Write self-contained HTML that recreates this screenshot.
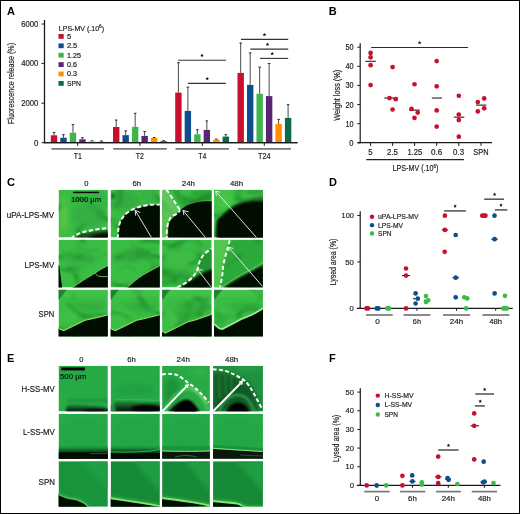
<!DOCTYPE html>
<html><head><meta charset="utf-8"><style>
html,body{margin:0;padding:0;background:#fff;}
svg{display:block;will-change:transform;}
text{font-family:"Liberation Sans", sans-serif;}
</style></head><body>
<svg width="520" height="514" viewBox="0 0 520 514">
<defs>
<filter id="b1" x="-20%" y="-20%" width="140%" height="140%"><feGaussianBlur stdDeviation="0.6"/></filter>
<filter id="b2" x="-50%" y="-50%" width="200%" height="200%"><feGaussianBlur stdDeviation="2.5"/></filter>
<filter id="tex" x="0" y="0" width="520" height="514" filterUnits="userSpaceOnUse" color-interpolation-filters="sRGB"><feTurbulence type="turbulence" baseFrequency="0.025 0.035" numOctaves="2" seed="11" result="n"/><feColorMatrix in="n" type="matrix" values="0 0 0 0 0.1  0 0 0 0 0.5  0 0 0 0 0.15  -5 0 0 0 1.0"/><feGaussianBlur stdDeviation="1.1"/></filter>
<filter id="b3" x="-50%" y="-50%" width="200%" height="200%"><feGaussianBlur stdDeviation="1.2"/></filter>
<clipPath id="c1"><rect x="58.55" y="189.85" width="49.3" height="47.7"/></clipPath>
<clipPath id="c2"><rect x="110.6" y="189.85" width="49.2" height="47.7"/></clipPath>
<clipPath id="c3"><rect x="162.1" y="189.85" width="49.6" height="47.7"/></clipPath>
<clipPath id="c4"><rect x="214.06" y="189.85" width="48.9" height="47.7"/></clipPath>
<clipPath id="c5"><rect x="58.55" y="239.8" width="49.3" height="47.7"/></clipPath>
<clipPath id="c6"><rect x="110.6" y="239.8" width="49.2" height="47.7"/></clipPath>
<clipPath id="c7"><rect x="162.1" y="239.8" width="49.6" height="47.7"/></clipPath>
<clipPath id="c8"><rect x="214.06" y="239.8" width="48.9" height="47.7"/></clipPath>
<clipPath id="c9"><rect x="58.55" y="289.8" width="49.3" height="46.8"/></clipPath>
<clipPath id="c10"><rect x="110.6" y="289.8" width="49.2" height="46.8"/></clipPath>
<clipPath id="c11"><rect x="162.1" y="289.8" width="49.6" height="46.8"/></clipPath>
<clipPath id="c12"><rect x="214.06" y="289.8" width="48.9" height="46.8"/></clipPath>
<linearGradient id="gdE11" x1="0" y1="0" x2="0" y2="1"><stop offset="0" stop-color="#0d3a18" stop-opacity="0.2"/><stop offset="0.5" stop-color="#0b2a12" stop-opacity="0.75"/><stop offset="1" stop-color="#020402"/></linearGradient>
<clipPath id="c13"><rect x="58.55" y="365.85" width="49.3" height="45.6"/></clipPath>
<clipPath id="c14"><rect x="110.66" y="365.85" width="49.2" height="45.6"/></clipPath>
<clipPath id="c15"><rect x="162.1" y="365.85" width="47.8" height="45.6"/></clipPath>
<clipPath id="c16"><rect x="213.06" y="365.85" width="49.9" height="45.6"/></clipPath>
<linearGradient id="gE2a" x1="0" y1="0" x2="0" y2="1"><stop offset="0" stop-color="#1b8f40" stop-opacity="0"/><stop offset="0.35" stop-color="#0f6a2c"/><stop offset="0.62" stop-color="#0a2810"/><stop offset="1" stop-color="#030503"/></linearGradient>
<clipPath id="c17"><rect x="58.55" y="413.8" width="49.3" height="45.0"/></clipPath>
<clipPath id="c18"><rect x="110.66" y="413.8" width="49.2" height="45.0"/></clipPath>
<clipPath id="c19"><rect x="162.1" y="413.8" width="47.8" height="45.0"/></clipPath>
<clipPath id="c20"><rect x="213.06" y="413.8" width="49.9" height="45.0"/></clipPath>
<clipPath id="c21"><rect x="58.55" y="461.2" width="49.3" height="45.6"/></clipPath>
<clipPath id="c22"><rect x="110.66" y="461.2" width="49.2" height="45.6"/></clipPath>
<clipPath id="c23"><rect x="162.1" y="461.2" width="47.8" height="45.6"/></clipPath>
<clipPath id="c24"><rect x="213.06" y="461.2" width="49.9" height="45.6"/></clipPath>
</defs>
<rect x="0.5" y="0.5" width="519" height="513" fill="#fff" stroke="#000" stroke-width="1"/>
<text x="7" y="15" font-size="11" text-anchor="start" font-weight="bold" fill="#000">A</text>
<text x="328.8" y="15" font-size="11" text-anchor="start" font-weight="bold" fill="#000">B</text>
<text x="7" y="186.3" font-size="11" text-anchor="start" font-weight="bold" fill="#000">C</text>
<text x="329" y="185.6" font-size="11" text-anchor="start" font-weight="bold" fill="#000">D</text>
<text x="7" y="361.8" font-size="11" text-anchor="start" font-weight="bold" fill="#000">E</text>
<text x="329" y="361.8" font-size="11" text-anchor="start" font-weight="bold" fill="#000">F</text>
<line x1="44.5" y1="20" x2="44.5" y2="143.2" stroke="#1a1a1a" stroke-width="1.3"/>
<line x1="44" y1="142.7" x2="297.5" y2="142.7" stroke="#1a1a1a" stroke-width="1.2"/>
<line x1="41.5" y1="24" x2="44.5" y2="24" stroke="#1a1a1a" stroke-width="1"/>
<text x="38.4" y="27.0" font-size="8.7" text-anchor="end" textLength="17.2" lengthAdjust="spacingAndGlyphs" fill="#222" stroke="#222" stroke-width="0.18">6000</text>
<line x1="41.5" y1="63.4" x2="44.5" y2="63.4" stroke="#1a1a1a" stroke-width="1"/>
<text x="38.4" y="66.4" font-size="8.7" text-anchor="end" textLength="17.2" lengthAdjust="spacingAndGlyphs" fill="#222" stroke="#222" stroke-width="0.18">4000</text>
<line x1="41.5" y1="103.2" x2="44.5" y2="103.2" stroke="#1a1a1a" stroke-width="1"/>
<text x="38.4" y="106.2" font-size="8.7" text-anchor="end" textLength="17.2" lengthAdjust="spacingAndGlyphs" fill="#222" stroke="#222" stroke-width="0.18">2000</text>
<line x1="41.5" y1="142.7" x2="44.5" y2="142.7" stroke="#1a1a1a" stroke-width="1"/>
<text x="38.4" y="145.7" font-size="8.7" text-anchor="end" textLength="4.4" lengthAdjust="spacingAndGlyphs" fill="#222" stroke="#222" stroke-width="0.18">0</text>
<text x="14" y="124" font-size="8.8" text-anchor="start" textLength="81" lengthAdjust="spacingAndGlyphs" transform="rotate(-90 14 124)" fill="#222" stroke="#222" stroke-width="0.18">Fluorescence release (%)</text>
<text x="58.8" y="31" font-size="7.0" text-anchor="start" textLength="45.2" lengthAdjust="spacingAndGlyphs" fill="#222" stroke="#222" stroke-width="0.18">LPS-MV (.10<tspan font-size="4.6" dy="-2.6">6</tspan><tspan dy="2.6">)</tspan></text>
<rect x="58.5" y="34.0" width="5.2" height="4.8" fill="#c8102e"/>
<text x="66.9" y="38.85" font-size="6.8" text-anchor="start" textLength="4.2" lengthAdjust="spacingAndGlyphs" fill="#222" stroke="#222" stroke-width="0.18">5</text>
<rect x="58.5" y="43.4" width="5.2" height="4.8" fill="#0c4e8c"/>
<text x="66.9" y="48.25" font-size="6.8" text-anchor="start" textLength="10.2" lengthAdjust="spacingAndGlyphs" fill="#222" stroke="#222" stroke-width="0.18">2.5</text>
<rect x="58.5" y="52.8" width="5.2" height="4.8" fill="#3db54a"/>
<text x="66.9" y="57.65" font-size="6.8" text-anchor="start" textLength="14" lengthAdjust="spacingAndGlyphs" fill="#222" stroke="#222" stroke-width="0.18">1.25</text>
<rect x="58.5" y="62.2" width="5.2" height="4.8" fill="#5b2374"/>
<text x="66.9" y="67.05" font-size="6.8" text-anchor="start" textLength="10" lengthAdjust="spacingAndGlyphs" fill="#222" stroke="#222" stroke-width="0.18">0.6</text>
<rect x="58.5" y="71.6" width="5.2" height="4.8" fill="#ff8f00"/>
<text x="66.9" y="76.44999999999999" font-size="6.8" text-anchor="start" textLength="10" lengthAdjust="spacingAndGlyphs" fill="#222" stroke="#222" stroke-width="0.18">0.3</text>
<rect x="58.5" y="81.0" width="5.2" height="4.8" fill="#0b6a4c"/>
<text x="66.9" y="85.85" font-size="6.8" text-anchor="start" textLength="14" lengthAdjust="spacingAndGlyphs" fill="#222" stroke="#222" stroke-width="0.18">SPN</text>
<line x1="54.0" y1="132" x2="54.0" y2="135.3" stroke="#4a4a4a" stroke-width="1"/>
<line x1="52.7" y1="132.4" x2="55.3" y2="132.4" stroke="#333" stroke-width="1"/>
<rect x="50.8" y="135.3" width="6.4" height="7.399999999999977" fill="#c8102e"/>
<line x1="63.480000000000004" y1="134.3" x2="63.480000000000004" y2="137.7" stroke="#4a4a4a" stroke-width="1"/>
<line x1="62.18000000000001" y1="134.70000000000002" x2="64.78" y2="134.70000000000002" stroke="#333" stroke-width="1"/>
<rect x="60.28" y="137.7" width="6.4" height="5.0" fill="#0c4e8c"/>
<line x1="72.96" y1="124.2" x2="72.96" y2="132.7" stroke="#4a4a4a" stroke-width="1"/>
<line x1="71.66" y1="124.60000000000001" x2="74.25999999999999" y2="124.60000000000001" stroke="#333" stroke-width="1"/>
<rect x="69.75999999999999" y="132.7" width="6.4" height="10.0" fill="#3db54a"/>
<line x1="82.44" y1="137.3" x2="82.44" y2="139.3" stroke="#4a4a4a" stroke-width="1"/>
<line x1="81.14" y1="137.70000000000002" x2="83.74" y2="137.70000000000002" stroke="#333" stroke-width="1"/>
<rect x="79.24" y="139.3" width="6.4" height="3.3999999999999773" fill="#5b2374"/>
<line x1="91.92" y1="140.4" x2="91.92" y2="141.5" stroke="#4a4a4a" stroke-width="1"/>
<line x1="90.62" y1="140.8" x2="93.22" y2="140.8" stroke="#333" stroke-width="1"/>
<rect x="88.72" y="141.5" width="6.4" height="1.1999999999999886" fill="#ff8f00"/>
<line x1="101.4" y1="140.6" x2="101.4" y2="141.8" stroke="#4a4a4a" stroke-width="1"/>
<line x1="100.10000000000001" y1="141.0" x2="102.7" y2="141.0" stroke="#333" stroke-width="1"/>
<rect x="98.2" y="141.8" width="6.4" height="0.8999999999999773" fill="#0b6a4c"/>
<line x1="116.2" y1="119.7" x2="116.2" y2="127" stroke="#4a4a4a" stroke-width="1"/>
<line x1="114.9" y1="120.10000000000001" x2="117.5" y2="120.10000000000001" stroke="#333" stroke-width="1"/>
<rect x="113.0" y="127" width="6.4" height="15.699999999999989" fill="#c8102e"/>
<line x1="125.68" y1="130.5" x2="125.68" y2="135.2" stroke="#4a4a4a" stroke-width="1"/>
<line x1="124.38000000000001" y1="130.9" x2="126.98" y2="130.9" stroke="#333" stroke-width="1"/>
<rect x="122.48" y="135.2" width="6.4" height="7.5" fill="#0c4e8c"/>
<line x1="135.16" y1="112.9" x2="135.16" y2="126.8" stroke="#4a4a4a" stroke-width="1"/>
<line x1="133.85999999999999" y1="113.30000000000001" x2="136.46" y2="113.30000000000001" stroke="#333" stroke-width="1"/>
<rect x="131.96" y="126.8" width="6.4" height="15.899999999999991" fill="#3db54a"/>
<line x1="144.64" y1="131.1" x2="144.64" y2="135.9" stroke="#4a4a4a" stroke-width="1"/>
<line x1="143.33999999999997" y1="131.5" x2="145.94" y2="131.5" stroke="#333" stroke-width="1"/>
<rect x="141.44" y="135.9" width="6.4" height="6.799999999999983" fill="#5b2374"/>
<line x1="154.12" y1="137.1" x2="154.12" y2="138" stroke="#4a4a4a" stroke-width="1"/>
<line x1="152.82" y1="137.5" x2="155.42000000000002" y2="137.5" stroke="#333" stroke-width="1"/>
<rect x="150.92000000000002" y="138" width="6.4" height="4.699999999999989" fill="#ff8f00"/>
<line x1="163.6" y1="140.3" x2="163.6" y2="141.2" stroke="#4a4a4a" stroke-width="1"/>
<line x1="162.29999999999998" y1="140.70000000000002" x2="164.9" y2="140.70000000000002" stroke="#333" stroke-width="1"/>
<rect x="160.4" y="141.2" width="6.4" height="1.5" fill="#0b6a4c"/>
<line x1="178.39999999999998" y1="62.3" x2="178.39999999999998" y2="92.6" stroke="#4a4a4a" stroke-width="1"/>
<line x1="177.09999999999997" y1="62.699999999999996" x2="179.7" y2="62.699999999999996" stroke="#333" stroke-width="1"/>
<rect x="175.2" y="92.6" width="6.4" height="50.099999999999994" fill="#c8102e"/>
<line x1="187.87999999999997" y1="86.8" x2="187.87999999999997" y2="110.9" stroke="#4a4a4a" stroke-width="1"/>
<line x1="186.57999999999996" y1="87.2" x2="189.17999999999998" y2="87.2" stroke="#333" stroke-width="1"/>
<rect x="184.67999999999998" y="110.9" width="6.4" height="31.799999999999983" fill="#0c4e8c"/>
<line x1="197.35999999999999" y1="129.3" x2="197.35999999999999" y2="134.3" stroke="#4a4a4a" stroke-width="1"/>
<line x1="196.05999999999997" y1="129.70000000000002" x2="198.66" y2="129.70000000000002" stroke="#333" stroke-width="1"/>
<rect x="194.16" y="134.3" width="6.4" height="8.399999999999977" fill="#3db54a"/>
<line x1="206.83999999999997" y1="120.5" x2="206.83999999999997" y2="129.9" stroke="#4a4a4a" stroke-width="1"/>
<line x1="205.53999999999996" y1="120.9" x2="208.14" y2="120.9" stroke="#333" stroke-width="1"/>
<rect x="203.64" y="129.9" width="6.4" height="12.799999999999983" fill="#5b2374"/>
<line x1="216.32" y1="138.8" x2="216.32" y2="139.7" stroke="#4a4a4a" stroke-width="1"/>
<line x1="215.01999999999998" y1="139.20000000000002" x2="217.62" y2="139.20000000000002" stroke="#333" stroke-width="1"/>
<rect x="213.12" y="139.7" width="6.4" height="3.0" fill="#ff8f00"/>
<line x1="225.79999999999998" y1="134.3" x2="225.79999999999998" y2="136.6" stroke="#4a4a4a" stroke-width="1"/>
<line x1="224.49999999999997" y1="134.70000000000002" x2="227.1" y2="134.70000000000002" stroke="#333" stroke-width="1"/>
<rect x="222.6" y="136.6" width="6.4" height="6.099999999999994" fill="#0b6a4c"/>
<line x1="240.7" y1="42.7" x2="240.7" y2="72.9" stroke="#4a4a4a" stroke-width="1"/>
<line x1="239.39999999999998" y1="43.1" x2="242.0" y2="43.1" stroke="#333" stroke-width="1"/>
<rect x="237.5" y="72.9" width="6.4" height="69.79999999999998" fill="#c8102e"/>
<line x1="250.17999999999998" y1="52.5" x2="250.17999999999998" y2="84.9" stroke="#4a4a4a" stroke-width="1"/>
<line x1="248.87999999999997" y1="52.9" x2="251.48" y2="52.9" stroke="#333" stroke-width="1"/>
<rect x="246.98" y="84.9" width="6.4" height="57.79999999999998" fill="#0c4e8c"/>
<line x1="259.65999999999997" y1="66.8" x2="259.65999999999997" y2="93.8" stroke="#4a4a4a" stroke-width="1"/>
<line x1="258.35999999999996" y1="67.2" x2="260.96" y2="67.2" stroke="#333" stroke-width="1"/>
<rect x="256.46" y="93.8" width="6.4" height="48.89999999999999" fill="#3db54a"/>
<line x1="269.14" y1="63.1" x2="269.14" y2="96.1" stroke="#4a4a4a" stroke-width="1"/>
<line x1="267.84" y1="63.5" x2="270.44" y2="63.5" stroke="#333" stroke-width="1"/>
<rect x="265.94" y="96.1" width="6.4" height="46.599999999999994" fill="#5b2374"/>
<line x1="278.62" y1="119" x2="278.62" y2="124" stroke="#4a4a4a" stroke-width="1"/>
<line x1="277.32" y1="119.4" x2="279.92" y2="119.4" stroke="#333" stroke-width="1"/>
<rect x="275.42" y="124" width="6.4" height="18.69999999999999" fill="#ff8f00"/>
<line x1="288.09999999999997" y1="104.3" x2="288.09999999999997" y2="117.9" stroke="#4a4a4a" stroke-width="1"/>
<line x1="286.79999999999995" y1="104.7" x2="289.4" y2="104.7" stroke="#333" stroke-width="1"/>
<rect x="284.9" y="117.9" width="6.4" height="24.799999999999983" fill="#0b6a4c"/>
<line x1="44" y1="142.7" x2="297.5" y2="142.7" stroke="#1a1a1a" stroke-width="1.2"/>
<line x1="51.4" y1="148.8" x2="103.9" y2="148.8" stroke="#777" stroke-width="1.7"/>
<line x1="77.7" y1="142.7" x2="77.7" y2="145.8" stroke="#1a1a1a" stroke-width="1"/>
<text x="77.7" y="159" font-size="8.3" text-anchor="middle" textLength="8.1" lengthAdjust="spacingAndGlyphs" fill="#222" stroke="#222" stroke-width="0.18">T1</text>
<line x1="113.2" y1="148.8" x2="166.8" y2="148.8" stroke="#777" stroke-width="1.7"/>
<line x1="139.9" y1="142.7" x2="139.9" y2="145.8" stroke="#1a1a1a" stroke-width="1"/>
<text x="139.9" y="159" font-size="8.3" text-anchor="middle" textLength="8.1" lengthAdjust="spacingAndGlyphs" fill="#222" stroke="#222" stroke-width="0.18">T2</text>
<line x1="175.5" y1="148.8" x2="228.9" y2="148.8" stroke="#777" stroke-width="1.7"/>
<line x1="202.4" y1="142.7" x2="202.4" y2="145.8" stroke="#1a1a1a" stroke-width="1"/>
<text x="202.4" y="159" font-size="8.3" text-anchor="middle" textLength="8.1" lengthAdjust="spacingAndGlyphs" fill="#222" stroke="#222" stroke-width="0.18">T4</text>
<line x1="237.9" y1="148.8" x2="290.9" y2="148.8" stroke="#777" stroke-width="1.7"/>
<line x1="264.3" y1="142.7" x2="264.3" y2="145.8" stroke="#1a1a1a" stroke-width="1"/>
<text x="264.3" y="159" font-size="8.3" text-anchor="middle" textLength="12.6" lengthAdjust="spacingAndGlyphs" fill="#222" stroke="#222" stroke-width="0.18">T24</text>
<line x1="178.2" y1="60.2" x2="225.9" y2="60.2" stroke="#333" stroke-width="1.1"/>
<polygon points="202.00,53.60 202.50,54.81 203.81,54.91 202.81,55.76 203.12,57.04 202.00,56.35 200.88,57.04 201.19,55.76 200.19,54.91 201.50,54.81" fill="#111"/>
<line x1="187.9" y1="83.4" x2="225.9" y2="83.4" stroke="#333" stroke-width="1.1"/>
<polygon points="207.20,76.80 207.70,78.01 209.01,78.11 208.01,78.96 208.32,80.24 207.20,79.56 206.08,80.24 206.39,78.96 205.39,78.11 206.70,78.01" fill="#111"/>
<line x1="240.9" y1="39.4" x2="288.2" y2="39.4" stroke="#333" stroke-width="1.1"/>
<polygon points="264.50,32.80 265.00,34.01 266.31,34.11 265.31,34.96 265.62,36.24 264.50,35.55 263.38,36.24 263.69,34.96 262.69,34.11 264.00,34.01" fill="#111"/>
<line x1="250.4" y1="49.1" x2="288.2" y2="49.1" stroke="#333" stroke-width="1.1"/>
<polygon points="267.50,42.50 268.00,43.71 269.31,43.81 268.31,44.66 268.62,45.94 267.50,45.25 266.38,45.94 266.69,44.66 265.69,43.81 267.00,43.71" fill="#111"/>
<line x1="260" y1="58.4" x2="288.2" y2="58.4" stroke="#333" stroke-width="1.1"/>
<polygon points="272.20,51.80 272.70,53.01 274.01,53.11 273.01,53.96 273.32,55.24 272.20,54.55 271.08,55.24 271.39,53.96 270.39,53.11 271.70,53.01" fill="#111"/>
<line x1="360.2" y1="43.3" x2="360.2" y2="143.2" stroke="#1a1a1a" stroke-width="1.2"/>
<line x1="357.5" y1="142.7" x2="492.1" y2="142.7" stroke="#1a1a1a" stroke-width="1.2"/>
<line x1="357.3" y1="142.8" x2="360.2" y2="142.8" stroke="#1a1a1a" stroke-width="1"/>
<text x="353.5" y="145.8" font-size="8.4" text-anchor="end" textLength="4.2" lengthAdjust="spacingAndGlyphs" fill="#222" stroke="#222" stroke-width="0.18">0</text>
<line x1="357.3" y1="123.67000000000002" x2="360.2" y2="123.67000000000002" stroke="#1a1a1a" stroke-width="1"/>
<text x="353.5" y="126.67000000000002" font-size="8.4" text-anchor="end" textLength="8.1" lengthAdjust="spacingAndGlyphs" fill="#222" stroke="#222" stroke-width="0.18">10</text>
<line x1="357.3" y1="104.54000000000002" x2="360.2" y2="104.54000000000002" stroke="#1a1a1a" stroke-width="1"/>
<text x="353.5" y="107.54000000000002" font-size="8.4" text-anchor="end" textLength="8.1" lengthAdjust="spacingAndGlyphs" fill="#222" stroke="#222" stroke-width="0.18">20</text>
<line x1="357.3" y1="85.41000000000001" x2="360.2" y2="85.41000000000001" stroke="#1a1a1a" stroke-width="1"/>
<text x="353.5" y="88.41000000000001" font-size="8.4" text-anchor="end" textLength="8.1" lengthAdjust="spacingAndGlyphs" fill="#222" stroke="#222" stroke-width="0.18">30</text>
<line x1="357.3" y1="66.28000000000002" x2="360.2" y2="66.28000000000002" stroke="#1a1a1a" stroke-width="1"/>
<text x="353.5" y="69.28000000000002" font-size="8.4" text-anchor="end" textLength="8.1" lengthAdjust="spacingAndGlyphs" fill="#222" stroke="#222" stroke-width="0.18">40</text>
<line x1="357.3" y1="47.150000000000006" x2="360.2" y2="47.150000000000006" stroke="#1a1a1a" stroke-width="1"/>
<text x="353.5" y="50.150000000000006" font-size="8.4" text-anchor="end" textLength="8.1" lengthAdjust="spacingAndGlyphs" fill="#222" stroke="#222" stroke-width="0.18">50</text>
<text x="339.7" y="120.8" font-size="8.6" text-anchor="start" textLength="51" lengthAdjust="spacingAndGlyphs" transform="rotate(-90 339.7 120.8)" fill="#222" stroke="#222" stroke-width="0.18">Weight loss (%)</text>
<line x1="371.2" y1="47.5" x2="468.1" y2="47.5" stroke="#2a2a2a" stroke-width="1.2"/>
<polygon points="419.60,40.70 420.10,41.91 421.41,42.01 420.41,42.86 420.72,44.14 419.60,43.45 418.48,44.14 418.79,42.86 417.79,42.01 419.10,41.91" fill="#111"/>
<line x1="370.6" y1="142.7" x2="370.6" y2="145.9" stroke="#1a1a1a" stroke-width="1"/>
<text x="370.45000000000005" y="155.3" font-size="8.4" text-anchor="middle" textLength="4.3" lengthAdjust="spacingAndGlyphs" fill="#222" stroke="#222" stroke-width="0.18">5</text>
<line x1="392.6" y1="142.7" x2="392.6" y2="145.9" stroke="#1a1a1a" stroke-width="1"/>
<text x="392.5" y="155.3" font-size="8.4" text-anchor="middle" textLength="11" lengthAdjust="spacingAndGlyphs" fill="#222" stroke="#222" stroke-width="0.18">2.5</text>
<line x1="414.6" y1="142.7" x2="414.6" y2="145.9" stroke="#1a1a1a" stroke-width="1"/>
<text x="414.75" y="155.3" font-size="8.4" text-anchor="middle" textLength="14.7" lengthAdjust="spacingAndGlyphs" fill="#222" stroke="#222" stroke-width="0.18">1.25</text>
<line x1="436.7" y1="142.7" x2="436.7" y2="145.9" stroke="#1a1a1a" stroke-width="1"/>
<text x="436.65" y="155.3" font-size="8.4" text-anchor="middle" textLength="11.3" lengthAdjust="spacingAndGlyphs" fill="#222" stroke="#222" stroke-width="0.18">0.6</text>
<line x1="458.8" y1="142.7" x2="458.8" y2="145.9" stroke="#1a1a1a" stroke-width="1"/>
<text x="458.55" y="155.3" font-size="8.4" text-anchor="middle" textLength="10.9" lengthAdjust="spacingAndGlyphs" fill="#222" stroke="#222" stroke-width="0.18">0.3</text>
<line x1="481" y1="142.7" x2="481" y2="145.9" stroke="#1a1a1a" stroke-width="1"/>
<text x="480.9" y="155.3" font-size="8.4" text-anchor="middle" textLength="15.2" lengthAdjust="spacingAndGlyphs" fill="#222" stroke="#222" stroke-width="0.18">SPN</text>
<line x1="366.3" y1="159.6" x2="464" y2="159.6" stroke="#222" stroke-width="1.1"/>
<text x="392.6" y="170.8" font-size="8.4" text-anchor="start" textLength="45.7" lengthAdjust="spacingAndGlyphs" fill="#222" stroke="#222" stroke-width="0.18">LPS-MV (.10<tspan font-size="5.2" dy="-3.2">6</tspan><tspan dy="3.2">)</tspan></text>
<line x1="365.3" y1="61.306200000000004" x2="375.8" y2="61.306200000000004" stroke="#222" stroke-width="1.1"/>
<line x1="384.3" y1="98.03580000000002" x2="398" y2="98.03580000000002" stroke="#222" stroke-width="1.1"/>
<line x1="409" y1="110.08770000000001" x2="419.7" y2="110.08770000000001" stroke="#222" stroke-width="1.1"/>
<line x1="431.8" y1="98.03580000000002" x2="442" y2="98.03580000000002" stroke="#222" stroke-width="1.1"/>
<line x1="453.8" y1="117.16580000000002" x2="464.3" y2="117.16580000000002" stroke="#222" stroke-width="1.1"/>
<line x1="476" y1="105.11390000000002" x2="486.3" y2="105.11390000000002" stroke="#222" stroke-width="1.1"/>
<circle cx="370.6" cy="52.88900000000001" r="2.35" fill="#c8102e"/>
<circle cx="370.6" cy="57.2889" r="2.35" fill="#c8102e"/>
<circle cx="370.6" cy="65.13220000000001" r="2.35" fill="#c8102e"/>
<circle cx="370.6" cy="85.02740000000001" r="2.35" fill="#c8102e"/>
<circle cx="392.6" cy="67.04520000000001" r="2.35" fill="#c8102e"/>
<circle cx="389.5" cy="98.03580000000002" r="2.35" fill="#c8102e"/>
<circle cx="395.7" cy="99.18360000000001" r="2.35" fill="#c8102e"/>
<circle cx="392.6" cy="109.5138" r="2.35" fill="#c8102e"/>
<circle cx="414.5" cy="84.2622" r="2.35" fill="#c8102e"/>
<circle cx="411.5" cy="108.93990000000001" r="2.35" fill="#c8102e"/>
<circle cx="417.7" cy="112.5746" r="2.35" fill="#c8102e"/>
<circle cx="414.5" cy="117.93100000000001" r="2.35" fill="#c8102e"/>
<circle cx="436.7" cy="61.114900000000006" r="2.35" fill="#c8102e"/>
<circle cx="436.7" cy="86.3665" r="2.35" fill="#c8102e"/>
<circle cx="436.7" cy="110.47030000000001" r="2.35" fill="#c8102e"/>
<circle cx="436.7" cy="126.5395" r="2.35" fill="#c8102e"/>
<circle cx="458.8" cy="95.74020000000002" r="2.35" fill="#c8102e"/>
<circle cx="458.8" cy="114.48760000000001" r="2.35" fill="#c8102e"/>
<circle cx="458.8" cy="120.0353" r="2.35" fill="#c8102e"/>
<circle cx="458.8" cy="136.6784" r="2.35" fill="#c8102e"/>
<circle cx="477.8" cy="102.0531" r="2.35" fill="#c8102e"/>
<circle cx="484.2" cy="98.41840000000002" r="2.35" fill="#c8102e"/>
<circle cx="484.2" cy="108.36600000000001" r="2.35" fill="#c8102e"/>
<circle cx="477.8" cy="111.42680000000001" r="2.35" fill="#c8102e"/>
<line x1="360.2" y1="211.3" x2="360.2" y2="308.9" stroke="#1a1a1a" stroke-width="1.2"/>
<line x1="357.3" y1="215.47999999999996" x2="360.2" y2="215.47999999999996" stroke="#1a1a1a" stroke-width="1"/>
<text x="353.9" y="218.07999999999996" font-size="8.1" text-anchor="end" textLength="12.3" lengthAdjust="spacingAndGlyphs" fill="#222" stroke="#222" stroke-width="0.18">100</text>
<line x1="357.3" y1="261.94" x2="360.2" y2="261.94" stroke="#1a1a1a" stroke-width="1"/>
<text x="353.9" y="264.54" font-size="8.1" text-anchor="end" textLength="8.6" lengthAdjust="spacingAndGlyphs" fill="#222" stroke="#222" stroke-width="0.18">50</text>
<line x1="357.3" y1="308.4" x2="360.2" y2="308.4" stroke="#1a1a1a" stroke-width="1"/>
<text x="353.9" y="311.0" font-size="8.1" text-anchor="end" textLength="4.3" lengthAdjust="spacingAndGlyphs" fill="#222" stroke="#222" stroke-width="0.18">0</text>
<text x="335.6" y="285.3" font-size="8.4" text-anchor="start" textLength="46.7" lengthAdjust="spacingAndGlyphs" transform="rotate(-90 335.6 285.3)" fill="#222" stroke="#222" stroke-width="0.18">Lysed area (%)</text>
<circle cx="372" cy="216.8" r="2.2" fill="#c8102e"/>
<text x="378" y="219.20000000000002" font-size="7.0" text-anchor="start" textLength="40.5" lengthAdjust="spacingAndGlyphs" fill="#222" stroke="#222" stroke-width="0.18">uPA-LPS-MV</text>
<circle cx="372" cy="225.15" r="2.2" fill="#0b4f8f"/>
<text x="378" y="227.55" font-size="7.0" text-anchor="start" textLength="25" lengthAdjust="spacingAndGlyphs" fill="#222" stroke="#222" stroke-width="0.18">LPS-MV</text>
<circle cx="372" cy="233.5" r="2.2" fill="#3dbb4a"/>
<text x="378" y="235.9" font-size="7.0" text-anchor="start" textLength="13.5" lengthAdjust="spacingAndGlyphs" fill="#222" stroke="#222" stroke-width="0.18">SPN</text>
<line x1="356.8" y1="308.4" x2="512.7" y2="308.4" stroke="#1a1a1a" stroke-width="1.2"/>
<line x1="366" y1="315" x2="392.7" y2="315" stroke="#777" stroke-width="1.7"/>
<line x1="377.6" y1="308.4" x2="377.6" y2="310.8" stroke="#1a1a1a" stroke-width="1"/>
<text x="377.6" y="324.4" font-size="7.2" text-anchor="middle" textLength="4.5" lengthAdjust="spacingAndGlyphs" fill="#222" stroke="#222" stroke-width="0.18">0</text>
<line x1="403.5" y1="315" x2="430.4" y2="315" stroke="#777" stroke-width="1.7"/>
<line x1="416.9" y1="308.4" x2="416.9" y2="310.8" stroke="#1a1a1a" stroke-width="1"/>
<text x="416.9" y="324.4" font-size="7.2" text-anchor="middle" textLength="8.1" lengthAdjust="spacingAndGlyphs" fill="#222" stroke="#222" stroke-width="0.18">6h</text>
<line x1="443" y1="315" x2="470.1" y2="315" stroke="#777" stroke-width="1.7"/>
<line x1="456.5" y1="308.4" x2="456.5" y2="310.8" stroke="#1a1a1a" stroke-width="1"/>
<text x="456.5" y="324.4" font-size="7.2" text-anchor="middle" textLength="13.3" lengthAdjust="spacingAndGlyphs" fill="#222" stroke="#222" stroke-width="0.18">24h</text>
<line x1="482.4" y1="315" x2="509.6" y2="315" stroke="#777" stroke-width="1.7"/>
<line x1="495.7" y1="308.4" x2="495.7" y2="310.8" stroke="#1a1a1a" stroke-width="1"/>
<text x="495.7" y="324.4" font-size="7.2" text-anchor="middle" textLength="13" lengthAdjust="spacingAndGlyphs" fill="#222" stroke="#222" stroke-width="0.18">48h</text>
<line x1="366.5" y1="308.4" x2="368.0" y2="308.4" stroke="#c8102e" stroke-width="4.8" stroke-linecap="round"/>
<line x1="376.8" y1="308.4" x2="378.3" y2="308.4" stroke="#0b4f8f" stroke-width="4.8" stroke-linecap="round"/>
<line x1="387.4" y1="308.4" x2="389.0" y2="308.4" stroke="#3dbb4a" stroke-width="4.8" stroke-linecap="round"/>
<line x1="402" y1="275.6" x2="410" y2="275.6" stroke="#222" stroke-width="1.1"/>
<line x1="413.1" y1="298.7" x2="419.5" y2="298.7" stroke="#222" stroke-width="1.1"/>
<line x1="423.9" y1="300.3" x2="430" y2="300.3" stroke="#222" stroke-width="1.1"/>
<line x1="441.7" y1="229.9" x2="448.2" y2="229.9" stroke="#222" stroke-width="1.1"/>
<line x1="452.5" y1="277.7" x2="459" y2="277.7" stroke="#222" stroke-width="1.1"/>
<line x1="491.3" y1="239.2" x2="497.8" y2="239.2" stroke="#222" stroke-width="1.1"/>
<circle cx="406" cy="268.5" r="2.35" fill="#c8102e"/>
<circle cx="406" cy="275.6" r="2.35" fill="#c8102e"/>
<circle cx="406" cy="308.4" r="2.35" fill="#c8102e"/>
<circle cx="444.9" cy="215.7" r="2.35" fill="#c8102e"/>
<circle cx="444.9" cy="229.9" r="2.35" fill="#c8102e"/>
<circle cx="444.7" cy="251.8" r="2.35" fill="#c8102e"/>
<line x1="482.3" y1="215.7" x2="485.4" y2="215.7" stroke="#c8102e" stroke-width="4.8" stroke-linecap="round"/>
<circle cx="415.6" cy="293.4" r="2.35" fill="#0b4f8f"/>
<circle cx="417.8" cy="298.7" r="2.35" fill="#0b4f8f"/>
<circle cx="415.6" cy="303.5" r="2.35" fill="#0b4f8f"/>
<circle cx="455.7" cy="235" r="2.35" fill="#0b4f8f"/>
<circle cx="455.7" cy="277.7" r="2.35" fill="#0b4f8f"/>
<circle cx="455.7" cy="297.3" r="2.35" fill="#0b4f8f"/>
<circle cx="494.5" cy="215.7" r="2.35" fill="#0b4f8f"/>
<circle cx="494.6" cy="239.2" r="2.35" fill="#0b4f8f"/>
<circle cx="494.6" cy="293.4" r="2.35" fill="#0b4f8f"/>
<circle cx="426" cy="296.1" r="2.35" fill="#3dbb4a"/>
<circle cx="428.2" cy="300.3" r="2.35" fill="#3dbb4a"/>
<circle cx="426" cy="302.1" r="2.35" fill="#3dbb4a"/>
<circle cx="464.3" cy="297.3" r="2.35" fill="#3dbb4a"/>
<circle cx="467.2" cy="298.4" r="2.35" fill="#3dbb4a"/>
<circle cx="466.2" cy="308.4" r="2.35" fill="#3dbb4a"/>
<circle cx="505" cy="295.8" r="2.35" fill="#3dbb4a"/>
<line x1="503.4" y1="308.4" x2="506.8" y2="308.4" stroke="#3dbb4a" stroke-width="4.8" stroke-linecap="round"/>
<line x1="444.1" y1="210.9" x2="465.9" y2="210.9" stroke="#5a5a5a" stroke-width="1.6"/>
<polygon points="455.10,204.20 455.60,205.41 456.91,205.51 455.91,206.36 456.22,207.64 455.10,206.95 453.98,207.64 454.29,206.36 453.29,205.51 454.60,205.41" fill="#111"/>
<line x1="484.2" y1="199.2" x2="504.1" y2="199.2" stroke="#5a5a5a" stroke-width="1.6"/>
<polygon points="494.60,192.50 495.10,193.71 496.41,193.81 495.41,194.66 495.72,195.94 494.60,195.25 493.48,195.94 493.79,194.66 492.79,193.81 494.10,193.71" fill="#111"/>
<line x1="494.9" y1="209.9" x2="507.4" y2="209.9" stroke="#5a5a5a" stroke-width="1.6"/>
<polygon points="501.00,203.20 501.50,204.41 502.81,204.51 501.81,205.36 502.12,206.64 501.00,205.95 499.88,206.64 500.19,205.36 499.19,204.51 500.50,204.41" fill="#111"/>
<line x1="360.3" y1="388.2" x2="360.3" y2="485.9" stroke="#1a1a1a" stroke-width="1.2"/>
<line x1="357.3" y1="485.4" x2="360.3" y2="485.4" stroke="#1a1a1a" stroke-width="1"/>
<text x="354.0" y="488.09999999999997" font-size="8.1" text-anchor="end" textLength="4.3" lengthAdjust="spacingAndGlyphs" fill="#222" stroke="#222" stroke-width="0.18">0</text>
<line x1="357.3" y1="466.73999999999995" x2="360.3" y2="466.73999999999995" stroke="#1a1a1a" stroke-width="1"/>
<text x="354.0" y="469.43999999999994" font-size="8.1" text-anchor="end" textLength="8.4" lengthAdjust="spacingAndGlyphs" fill="#222" stroke="#222" stroke-width="0.18">10</text>
<line x1="357.3" y1="448.08" x2="360.3" y2="448.08" stroke="#1a1a1a" stroke-width="1"/>
<text x="354.0" y="450.78" font-size="8.1" text-anchor="end" textLength="8.4" lengthAdjust="spacingAndGlyphs" fill="#222" stroke="#222" stroke-width="0.18">20</text>
<line x1="357.3" y1="429.41999999999996" x2="360.3" y2="429.41999999999996" stroke="#1a1a1a" stroke-width="1"/>
<text x="354.0" y="432.11999999999995" font-size="8.1" text-anchor="end" textLength="8.4" lengthAdjust="spacingAndGlyphs" fill="#222" stroke="#222" stroke-width="0.18">30</text>
<line x1="357.3" y1="410.76" x2="360.3" y2="410.76" stroke="#1a1a1a" stroke-width="1"/>
<text x="354.0" y="413.46" font-size="8.1" text-anchor="end" textLength="8.4" lengthAdjust="spacingAndGlyphs" fill="#222" stroke="#222" stroke-width="0.18">40</text>
<line x1="357.3" y1="392.09999999999997" x2="360.3" y2="392.09999999999997" stroke="#1a1a1a" stroke-width="1"/>
<text x="354.0" y="394.79999999999995" font-size="8.1" text-anchor="end" textLength="8.4" lengthAdjust="spacingAndGlyphs" fill="#222" stroke="#222" stroke-width="0.18">50</text>
<text x="339.2" y="461.9" font-size="8.4" text-anchor="start" textLength="47.1" lengthAdjust="spacingAndGlyphs" transform="rotate(-90 339.2 461.9)" fill="#222" stroke="#222" stroke-width="0.18">Lysed area (%)</text>
<circle cx="377.8" cy="395.6" r="2.2" fill="#c8102e"/>
<text x="384.5" y="398.0" font-size="6.7" text-anchor="start" textLength="29.2" lengthAdjust="spacingAndGlyphs" fill="#222" stroke="#222" stroke-width="0.18">H-SS-MV</text>
<circle cx="377.8" cy="405.05" r="2.2" fill="#0b4f8f"/>
<text x="384.5" y="407.45" font-size="6.7" text-anchor="start" textLength="27.6" lengthAdjust="spacingAndGlyphs" fill="#222" stroke="#222" stroke-width="0.18">L-SS-MV</text>
<circle cx="377.8" cy="414.5" r="2.2" fill="#3dbb4a"/>
<text x="384.5" y="416.9" font-size="6.7" text-anchor="start" textLength="13.4" lengthAdjust="spacingAndGlyphs" fill="#222" stroke="#222" stroke-width="0.18">SPN</text>
<line x1="356.8" y1="485.4" x2="500.5" y2="485.4" stroke="#1a1a1a" stroke-width="1.2"/>
<line x1="364.2" y1="491.6" x2="389.6" y2="491.6" stroke="#777" stroke-width="1.7"/>
<line x1="376.9" y1="485.4" x2="376.9" y2="487.8" stroke="#1a1a1a" stroke-width="1"/>
<text x="376.9" y="501.4" font-size="7.0" text-anchor="middle" textLength="4.4" lengthAdjust="spacingAndGlyphs" fill="#222" stroke="#222" stroke-width="0.18">0</text>
<line x1="400.1" y1="491.6" x2="425.3" y2="491.6" stroke="#777" stroke-width="1.7"/>
<line x1="412.5" y1="485.4" x2="412.5" y2="487.8" stroke="#1a1a1a" stroke-width="1"/>
<text x="412.5" y="501.4" font-size="7.0" text-anchor="middle" textLength="8.8" lengthAdjust="spacingAndGlyphs" fill="#222" stroke="#222" stroke-width="0.18">6h</text>
<line x1="435.9" y1="491.6" x2="460.8" y2="491.6" stroke="#777" stroke-width="1.7"/>
<line x1="448.3" y1="485.4" x2="448.3" y2="487.8" stroke="#1a1a1a" stroke-width="1"/>
<text x="448.3" y="501.4" font-size="7.0" text-anchor="middle" textLength="13.3" lengthAdjust="spacingAndGlyphs" fill="#222" stroke="#222" stroke-width="0.18">24h</text>
<line x1="471.8" y1="491.6" x2="497" y2="491.6" stroke="#777" stroke-width="1.7"/>
<line x1="484.4" y1="485.4" x2="484.4" y2="487.8" stroke="#1a1a1a" stroke-width="1"/>
<text x="484.4" y="501.4" font-size="7.0" text-anchor="middle" textLength="13" lengthAdjust="spacingAndGlyphs" fill="#222" stroke="#222" stroke-width="0.18">48h</text>
<line x1="409.5" y1="481.4" x2="415.5" y2="481.4" stroke="#222" stroke-width="1.1"/>
<line x1="435" y1="476.9" x2="441.5" y2="476.9" stroke="#222" stroke-width="1.1"/>
<line x1="445" y1="479" x2="451" y2="479" stroke="#222" stroke-width="1.1"/>
<line x1="470.5" y1="425.8" x2="479" y2="425.8" stroke="#222" stroke-width="1.1"/>
<line x1="480.5" y1="482" x2="487" y2="482" stroke="#222" stroke-width="1.1"/>
<circle cx="366.7" cy="485.4" r="2.35" fill="#c8102e"/>
<circle cx="402.4" cy="475.8" r="2.35" fill="#c8102e"/>
<circle cx="402.4" cy="485.4" r="2.35" fill="#c8102e"/>
<circle cx="438.2" cy="456.6" r="2.35" fill="#c8102e"/>
<circle cx="438.2" cy="476.9" r="2.35" fill="#c8102e"/>
<circle cx="438.2" cy="483.2" r="2.35" fill="#c8102e"/>
<circle cx="474.2" cy="413.4" r="2.35" fill="#c8102e"/>
<circle cx="474.2" cy="425.8" r="2.35" fill="#c8102e"/>
<circle cx="474.2" cy="459.4" r="2.35" fill="#c8102e"/>
<circle cx="376.6" cy="485.4" r="2.35" fill="#0b4f8f"/>
<circle cx="412.2" cy="475.4" r="2.35" fill="#0b4f8f"/>
<circle cx="412.4" cy="481.4" r="2.35" fill="#0b4f8f"/>
<circle cx="447.6" cy="478.2" r="2.35" fill="#0b4f8f"/>
<circle cx="448.6" cy="479.8" r="2.35" fill="#0b4f8f"/>
<circle cx="483.7" cy="461.7" r="2.35" fill="#0b4f8f"/>
<circle cx="483.2" cy="482.3" r="2.35" fill="#0b4f8f"/>
<circle cx="484.5" cy="481.6" r="2.35" fill="#0b4f8f"/>
<circle cx="386.2" cy="485.4" r="2.35" fill="#3dbb4a"/>
<circle cx="421.8" cy="482.4" r="2.35" fill="#3dbb4a"/>
<circle cx="421.8" cy="484.6" r="2.35" fill="#3dbb4a"/>
<circle cx="457.3" cy="484.1" r="2.35" fill="#3dbb4a"/>
<circle cx="493.5" cy="483.1" r="2.35" fill="#3dbb4a"/>
<line x1="438.2" y1="450" x2="458.5" y2="450" stroke="#5a5a5a" stroke-width="1.6"/>
<polygon points="448.50,443.50 449.00,444.71 450.31,444.81 449.31,445.66 449.62,446.94 448.50,446.25 447.38,446.94 447.69,445.66 446.69,444.81 448.00,444.71" fill="#111"/>
<line x1="475.3" y1="394" x2="494" y2="394" stroke="#5a5a5a" stroke-width="1.6"/>
<polygon points="484.70,387.50 485.20,388.71 486.51,388.81 485.51,389.66 485.82,390.94 484.70,390.25 483.58,390.94 483.89,389.66 482.89,388.81 484.20,388.71" fill="#111"/>
<line x1="474.9" y1="405.9" x2="484.9" y2="405.9" stroke="#5a5a5a" stroke-width="1.6"/>
<polygon points="480.20,399.40 480.70,400.61 482.01,400.71 481.01,401.56 481.32,402.84 480.20,402.15 479.08,402.84 479.39,401.56 478.39,400.71 479.70,400.61" fill="#111"/>
<g clip-path="url(#c1)">
<rect x="58.55" y="189.85" width="49.3" height="47.7" fill="#3abd44"/>
<rect x="58.55" y="189.85" width="49.3" height="47.7" fill="#000" filter="url(#tex)" opacity="0.7"/>
<ellipse cx="88" cy="215" rx="16" ry="14" fill="#33a845" opacity="0.6" filter="url(#b2)" transform="rotate(0 88 215)"/>
<ellipse cx="64" cy="215" rx="4" ry="18" fill="#7acb4a" opacity="0.5" filter="url(#b2)" transform="rotate(0 64 215)"/>
<ellipse cx="100" cy="200" rx="10" ry="8" fill="#2fae4a" opacity="0.5" filter="url(#b2)" transform="rotate(0 100 200)"/>
<path d="M74.00,238.50 C75.00,237.75 77.33,235.08 80.00,234.00 C82.67,232.92 86.67,232.58 90.00,232.00 C93.33,231.42 96.83,230.83 100.00,230.50 C103.17,230.17 107.50,230.08 109.00,230.00 L109,239 L74,239 Z" fill="#14501c" filter="url(#b3)"/>
<path d="M86.00,239.00 C87.33,238.42 91.33,236.37 94.00,235.50 C96.67,234.63 99.50,234.18 102.00,233.80 C104.50,233.42 107.83,233.30 109.00,233.20 L109,239 Z" fill="#050805" filter="url(#b3)"/>
<path d="M71.60,237.80 C72.80,237.12 76.20,234.82 78.80,233.70 C81.40,232.58 84.08,231.83 87.20,231.10 C90.32,230.37 94.03,229.82 97.50,229.30 C100.97,228.78 106.25,228.22 108.00,228.00" fill="none" stroke="#fff" stroke-width="1.9" stroke-dasharray="4.2 2.4" stroke-dashoffset="1"/>
</g>
<g clip-path="url(#c2)">
<rect x="110.6" y="189.85" width="49.2" height="47.7" fill="#3abd44"/>
<rect x="110.6" y="189.85" width="49.2" height="47.7" fill="#000" filter="url(#tex)" opacity="0.7"/>
<ellipse cx="125" cy="200" rx="14" ry="10" fill="#2e9c3c" opacity="0.5" filter="url(#b2)" transform="rotate(0 125 200)"/>
<ellipse cx="150" cy="195" rx="10" ry="8" fill="#34a844" opacity="0.5" filter="url(#b2)" transform="rotate(0 150 195)"/>
<ellipse cx="113" cy="196" rx="2" ry="3" fill="#1b5e20" opacity="0.8" filter="url(#b3)" transform="rotate(0 113 196)"/>
<path d="M117.90,238.50 C117.98,237.00 117.97,232.38 118.40,229.50 C118.83,226.62 119.28,223.78 120.50,221.20 C121.72,218.62 123.63,215.98 125.70,214.00 C127.77,212.02 130.32,210.55 132.90,209.30 C135.48,208.05 138.25,207.25 141.20,206.50 C144.15,205.75 147.30,205.12 150.60,204.80 C153.90,204.48 159.27,204.63 161.00,204.60 L161,239 Z" fill="#050805" filter="url(#b1)"/>
<path d="M117.90,238.50 C117.98,237.00 117.97,232.38 118.40,229.50 C118.83,226.62 119.28,223.78 120.50,221.20 C121.72,218.62 123.63,215.98 125.70,214.00 C127.77,212.02 130.32,210.55 132.90,209.30 C135.48,208.05 138.25,207.25 141.20,206.50 C144.15,205.75 147.30,205.12 150.60,204.80 C153.90,204.48 159.27,204.63 161.00,204.60" fill="none" stroke="#7ed860" stroke-width="0.8" opacity="0.6"/>
<path d="M117.90,238.50 C117.98,237.00 117.97,232.38 118.40,229.50 C118.83,226.62 119.28,223.78 120.50,221.20 C121.72,218.62 123.63,215.98 125.70,214.00 C127.77,212.02 130.32,210.55 132.90,209.30 C135.48,208.05 138.25,207.25 141.20,206.50 C144.15,205.75 147.30,205.12 150.60,204.80 C153.90,204.48 159.27,204.63 161.00,204.60" fill="none" stroke="#fff" stroke-width="1.9" stroke-dasharray="4.2 2.4" stroke-dashoffset="0"/>
<line x1="151.6" y1="237.8" x2="135.2" y2="210.3" stroke="#f4f4f4" stroke-width="0.9"/>
<path d="M140.4,212.6 L135.2,210.3 L135.6,215.6" fill="none" stroke="#f4f4f4" stroke-width="0.9"/>
</g>
<g clip-path="url(#c3)">
<rect x="162.1" y="189.85" width="49.6" height="47.7" fill="#3abd44"/>
<rect x="162.1" y="189.85" width="49.6" height="47.7" fill="#000" filter="url(#tex)" opacity="0.7"/>
<ellipse cx="203" cy="194" rx="12" ry="4" fill="#23932e" opacity="0.55" filter="url(#b3)" transform="rotate(0 203 194)"/>
<path d="M183,209 C190,201 200,197 213,195 L213,201 C200,201 192,203 186,208 Z" fill="#1e7a26" opacity="0.6" filter="url(#b3)"/>
<path d="M161.0,189.0 L166.8,189.0 L180.2,210.3 L171.0,216.0 L168.0,222.0 L166.8,239.0 L161.0,239.0 Z" fill="#7ccf6e" opacity="0.55" filter="url(#b1)"/>
<path d="M167.80,238.50 C167.88,236.32 167.70,228.62 168.30,225.40 C168.90,222.18 170.02,221.10 171.40,219.20 C172.78,217.30 174.87,215.73 176.60,214.00 C178.33,212.27 180.07,210.28 181.80,208.80 C183.53,207.32 184.92,206.15 187.00,205.10 C189.08,204.05 191.53,203.18 194.30,202.50 C197.07,201.82 200.48,201.25 203.60,201.00 C206.72,200.75 211.43,201.00 213.00,201.00 L213,239 Z" fill="#050805" filter="url(#b1)"/>
<path d="M167.80,238.50 C167.88,236.32 167.70,228.62 168.30,225.40 C168.90,222.18 170.02,221.10 171.40,219.20 C172.78,217.30 174.87,215.73 176.60,214.00 C178.33,212.27 180.07,210.28 181.80,208.80 C183.53,207.32 184.92,206.15 187.00,205.10 C189.08,204.05 191.53,203.18 194.30,202.50 C197.07,201.82 200.48,201.25 203.60,201.00 C206.72,200.75 211.43,201.00 213.00,201.00" fill="none" stroke="#86e07a" stroke-width="0.8" opacity="0.5"/>
<path d="M166.50,189.50 C167.67,191.25 171.22,196.53 173.50,200.00 C175.78,203.47 179.08,208.58 180.20,210.30" fill="none" stroke="#fff" stroke-width="1.9" stroke-dasharray="4.2 2.4" stroke-dashoffset="0"/>
<path d="M180.20,210.30 C179.67,210.88 178.45,212.77 177.00,213.80 C175.55,214.83 172.95,215.13 171.50,216.50 C170.05,217.87 169.07,219.75 168.30,222.00 C167.53,224.25 167.15,227.33 166.90,230.00 C166.65,232.67 166.82,236.67 166.80,238.00" fill="none" stroke="#fff" stroke-width="1.9" stroke-dasharray="4.2 2.4" stroke-dashoffset="1.5"/>
<line x1="205.7" y1="237.8" x2="183" y2="210.3" stroke="#f4f4f4" stroke-width="0.9"/>
<path d="M188.6,211.9 L183,210.3 L183.9,215.2" fill="none" stroke="#f4f4f4" stroke-width="0.9"/>
</g>
<g clip-path="url(#c4)">
<rect x="214.06" y="189.85" width="48.9" height="47.7" fill="#3abd44"/>
<rect x="214.06" y="189.85" width="48.9" height="47.7" fill="#000" filter="url(#tex)" opacity="0.7"/>
<path d="M222,214 C232,204 245,198 265,196 L265,203 C248,203 236,207 226,216 Z" fill="#1a6a22" opacity="0.8" filter="url(#b3)"/>
<ellipse cx="256" cy="192" rx="10" ry="3" fill="#2a9a35" opacity="0.6" filter="url(#b3)" transform="rotate(0 256 192)"/>
<ellipse cx="224" cy="200" rx="10" ry="10" fill="#52cc50" opacity="0.5" filter="url(#b2)" transform="rotate(0 224 200)"/>
<path d="M216.20,238.50 C216.28,235.80 216.02,225.87 216.70,222.30 C217.38,218.73 218.67,218.83 220.30,217.10 C221.93,215.37 224.42,213.55 226.50,211.90 C228.58,210.25 230.37,208.58 232.80,207.20 C235.23,205.82 238.17,204.55 241.10,203.60 C244.03,202.65 246.58,201.93 250.40,201.50 C254.22,201.07 261.73,201.08 264.00,201.00 L264,239 Z" fill="#050805" filter="url(#b3)"/>
<path d="M218.50,239.00 C218.58,236.50 218.42,227.25 219.00,224.00 C219.58,220.75 220.50,221.17 222.00,219.50 C223.50,217.83 226.00,215.67 228.00,214.00 C230.00,212.33 231.67,210.83 234.00,209.50 C236.33,208.17 239.17,206.95 242.00,206.00 C244.83,205.05 247.33,204.27 251.00,203.80 C254.67,203.33 261.83,203.30 264.00,203.20 L264,239 Z" fill="#050805" filter="url(#b1)"/>
<line x1="256.7" y1="237.8" x2="215.6" y2="191.1" stroke="#f4f4f4" stroke-width="0.9"/>
<path d="M220.3,192.2 L215.6,191.1 L216.4,195.8" fill="none" stroke="#f4f4f4" stroke-width="0.9"/>
</g>
<g clip-path="url(#c5)">
<rect x="58.55" y="239.8" width="49.3" height="47.7" fill="#3abd44"/>
<rect x="58.55" y="239.8" width="49.3" height="47.7" fill="#000" filter="url(#tex)" opacity="0.7"/>
<ellipse cx="80" cy="258" rx="14" ry="8" fill="#2f9e3c" opacity="0.45" filter="url(#b2)" transform="rotate(0 80 258)"/>
<path d="M62,252 C70,256 80,262 95,258 M75,243 C80,248 88,252 100,250 M90,262 C95,258 100,255 107,254 M66,270 C70,266 76,266 82,270" fill="none" stroke="#23913a" stroke-width="1.6" opacity="0.35" filter="url(#b3)"/>
<path d="M57.0,265.0 L59.2,265.5 L62.2,288.0 L57.0,288.0 Z" fill="#050805" filter="url(#b1)"/>
<path d="M71.50,288.50 C73.42,287.17 79.08,283.05 83.00,280.50 C86.92,277.95 91.83,275.15 95.00,273.20 C98.17,271.25 99.58,270.17 102.00,268.80 C104.42,267.43 108.25,265.63 109.50,265.00 L109.5,288.5 Z" fill="#050805" filter="url(#b1)"/>
<path d="M71.50,288.50 C73.42,287.17 79.08,283.05 83.00,280.50 C86.92,277.95 91.83,275.15 95.00,273.20 C98.17,271.25 99.58,270.17 102.00,268.80 C104.42,267.43 108.25,265.63 109.50,265.00" fill="none" stroke="#8de06c" stroke-width="0.9" opacity="0.8"/>
<path d="M95.00,273.20 C95.42,273.60 96.50,275.03 97.50,275.60 C98.50,276.17 99.08,276.45 101.00,276.60 C102.92,276.75 107.67,276.52 109.00,276.50" fill="none" stroke="#8de06c" stroke-width="0.9" opacity="0.9"/>
</g>
<g clip-path="url(#c6)">
<rect x="110.6" y="239.8" width="49.2" height="47.7" fill="#3abd44"/>
<rect x="110.6" y="239.8" width="49.2" height="47.7" fill="#000" filter="url(#tex)" opacity="0.7"/>
<ellipse cx="133" cy="256" rx="14" ry="7" fill="#2e9a3a" opacity="0.45" filter="url(#b2)" transform="rotate(0 133 256)"/>
<path d="M113,255 C120,260 135,262 150,252 M130,242 C135,248 140,255 158,248 M118,270 C124,266 130,266 136,270" fill="none" stroke="#23913a" stroke-width="1.6" opacity="0.35" filter="url(#b3)"/>
<path d="M126.20,288.50 C128.37,286.67 134.97,280.55 139.20,277.50 C143.43,274.45 147.97,272.25 151.60,270.20 C155.23,268.15 159.43,266.03 161.00,265.20 L161,288.5 Z" fill="#050805" filter="url(#b1)"/>
<path d="M126.20,288.50 C128.37,286.67 134.97,280.55 139.20,277.50 C143.43,274.45 147.97,272.25 151.60,270.20 C155.23,268.15 159.43,266.03 161.00,265.20" fill="none" stroke="#8de06c" stroke-width="0.9" opacity="0.85"/>
</g>
<g clip-path="url(#c7)">
<rect x="162.1" y="239.8" width="49.6" height="47.7" fill="#3abd44"/>
<rect x="162.1" y="239.8" width="49.6" height="47.7" fill="#000" filter="url(#tex)" opacity="0.7"/>
<ellipse cx="180" cy="262" rx="12" ry="12" fill="#44bb48" opacity="0.5" filter="url(#b2)" transform="rotate(0 180 262)"/>
<path d="M177.10,288.00 C178.58,287.12 183.32,284.63 186.00,282.70 C188.68,280.77 191.30,278.65 193.20,276.40 C195.10,274.15 196.35,271.62 197.40,269.20 C198.45,266.78 198.63,264.07 199.50,261.90 C200.37,259.73 201.40,257.85 202.60,256.20 C203.80,254.55 204.97,253.28 206.70,252.00 C208.43,250.72 211.95,249.08 213.00,248.50 L213,288 Z" fill="#1f8a2e" opacity="0.75" filter="url(#b1)"/>
<path d="M179.20,288.50 C181.72,286.83 190.23,281.12 194.30,278.50 C198.37,275.88 200.48,274.42 203.60,272.80 C206.72,271.18 211.43,269.47 213.00,268.80 L213,288.5 Z" fill="#050805" filter="url(#b3)"/>
<path d="M177.10,287.60 C178.58,286.78 183.32,284.57 186.00,282.70 C188.68,280.83 191.30,278.65 193.20,276.40 C195.10,274.15 196.35,271.62 197.40,269.20 C198.45,266.78 198.63,264.07 199.50,261.90 C200.37,259.73 201.40,257.85 202.60,256.20 C203.80,254.55 205.20,253.23 206.70,252.00 C208.20,250.77 210.78,249.33 211.60,248.80" fill="none" stroke="#fff" stroke-width="1.9" stroke-dasharray="4.2 2.4" stroke-dashoffset="0"/>
<line x1="210.9" y1="286.8" x2="197.4" y2="269.2" stroke="#f4f4f4" stroke-width="0.9"/>
<path d="M202.6,270.2 L197.4,269.2 L196.9,272.8" fill="none" stroke="#f4f4f4" stroke-width="0.9"/>
</g>
<g clip-path="url(#c8)">
<rect x="214.06" y="239.8" width="48.9" height="47.7" fill="#3abd44"/>
<rect x="214.06" y="239.8" width="48.9" height="47.7" fill="#000" filter="url(#tex)" opacity="0.7"/>
<path d="M213.0,239.0 L229.7,239.0 L227.6,248.4 L225.5,255.7 L223.4,265.0 L222.4,274.3 L220.1,288.0 L213.0,288.0 Z" fill="#6fd05f" opacity="0.45" filter="url(#b1)"/>
<path d="M229.7,239.0 L265.0,239.0 L265.0,262.0 L222.0,288.0 L220.1,288.0 L222.4,274.3 L225.5,255.7 Z" fill="#249a36" opacity="0.55" filter="url(#b3)"/>
<path d="M222.40,288.50 C225.00,286.83 233.15,281.38 238.00,278.50 C242.85,275.62 247.17,273.53 251.50,271.20 C255.83,268.87 261.92,265.62 264.00,264.50 L264,288.5 Z" fill="#050805" filter="url(#b3)"/>
<path d="M221.00,287.50 C223.83,285.67 232.92,279.55 238.00,276.50 C243.08,273.45 247.17,271.62 251.50,269.20 C255.83,266.78 261.92,263.20 264.00,262.00" fill="none" stroke="#6fd76a" stroke-width="1.2" opacity="0.6" filter="url(#b1)"/>
<path d="M229.70,240.20 C229.35,241.57 228.30,245.82 227.60,248.40 C226.90,250.98 226.20,252.93 225.50,255.70 C224.80,258.47 223.92,261.90 223.40,265.00 C222.88,268.10 222.95,270.55 222.40,274.30 C221.85,278.05 220.48,285.30 220.10,287.50" fill="none" stroke="#fff" stroke-width="1.9" stroke-dasharray="4 2.6" stroke-dashoffset="0"/>
<line x1="262.4" y1="286.3" x2="228.6" y2="247.3" stroke="#f4f4f4" stroke-width="0.9"/>
<path d="M233.3,248.4 L228.6,247.3 L229.1,251.5" fill="none" stroke="#f4f4f4" stroke-width="0.9"/>
</g>
<g clip-path="url(#c9)">
<rect x="58.55" y="289.8" width="49.3" height="46.8" fill="#3abd44"/>
<rect x="58.55" y="289.8" width="49.3" height="46.8" fill="#000" filter="url(#tex)" opacity="0.7"/>
<path d="M57.55,288.8 L67.55,288.8 L60.55,297.8 L57.55,300.8 Z" fill="#1a7a2a" opacity="0.85" filter="url(#b1)"/>
<path d="M67.55,288.8 L108.85,288.8 L108.85,295.8 L60.55,297.8 Z" fill="#48c850" opacity="0.5" filter="url(#b3)"/>
<ellipse cx="88.55" cy="306.8" rx="18" ry="4" fill="#2a9e38" opacity="0.55" filter="url(#b2)" transform="rotate(0 88.55 306.8)"/>
<ellipse cx="70.55" cy="315.8" rx="10" ry="8" fill="#46c44c" opacity="0.4" filter="url(#b2)" transform="rotate(0 70.55 315.8)"/>
<path d="M57.0,328.0 L63.8,330.6 L85.1,320.2 L92.3,318.7 L109.5,314.5 L108.85,337.65 L57.55,337.65 Z" fill="#050805" filter="url(#b1)"/>
<path d="M57.0,328.0 L63.8,330.6 L85.1,320.2 L92.3,318.7 L109.5,314.5" fill="none" stroke="#9be36a" stroke-width="1.1" opacity="0.95"/>
</g>
<g clip-path="url(#c10)">
<rect x="110.6" y="289.8" width="49.2" height="46.8" fill="#3abd44"/>
<rect x="110.6" y="289.8" width="49.2" height="46.8" fill="#000" filter="url(#tex)" opacity="0.7"/>
<path d="M109.6,288.8 L119.6,288.8 L112.6,297.8 L109.6,300.8 Z" fill="#1a7a2a" opacity="0.85" filter="url(#b1)"/>
<path d="M119.6,288.8 L160.85,288.8 L160.85,295.8 L112.6,297.8 Z" fill="#48c850" opacity="0.5" filter="url(#b3)"/>
<ellipse cx="140.6" cy="306.8" rx="18" ry="4" fill="#2a9e38" opacity="0.55" filter="url(#b2)" transform="rotate(0 140.6 306.8)"/>
<ellipse cx="122.6" cy="315.8" rx="10" ry="8" fill="#46c44c" opacity="0.4" filter="url(#b2)" transform="rotate(0 122.6 315.8)"/>
<path d="M109.0,328.0 L115.4,330.6 L136.6,320.2 L143.8,318.7 L161.0,314.5 L160.85,337.65 L109.6,337.65 Z" fill="#050805" filter="url(#b1)"/>
<path d="M109.0,328.0 L115.4,330.6 L136.6,320.2 L143.8,318.7 L161.0,314.5" fill="none" stroke="#9be36a" stroke-width="1.1" opacity="0.95"/>
</g>
<g clip-path="url(#c11)">
<rect x="162.1" y="289.8" width="49.6" height="46.8" fill="#3abd44"/>
<rect x="162.1" y="289.8" width="49.6" height="46.8" fill="#000" filter="url(#tex)" opacity="0.7"/>
<path d="M161.1,288.8 L171.1,288.8 L164.1,297.8 L161.1,300.8 Z" fill="#1a7a2a" opacity="0.85" filter="url(#b1)"/>
<path d="M171.1,288.8 L212.7,288.8 L212.7,295.8 L164.1,297.8 Z" fill="#48c850" opacity="0.5" filter="url(#b3)"/>
<ellipse cx="192.1" cy="306.8" rx="18" ry="4" fill="#2a9e38" opacity="0.55" filter="url(#b2)" transform="rotate(0 192.1 306.8)"/>
<ellipse cx="174.1" cy="315.8" rx="10" ry="8" fill="#46c44c" opacity="0.4" filter="url(#b2)" transform="rotate(0 174.1 315.8)"/>
<path d="M161.0,330.6 L165.2,333.2 L188.0,321.8 L195.3,320.0 L213.0,313.8 L212.7,337.65 L161.1,337.65 Z" fill="#050805" filter="url(#b1)"/>
<path d="M161.0,330.6 L165.2,333.2 L188.0,321.8 L195.3,320.0 L213.0,313.8" fill="none" stroke="#9be36a" stroke-width="1.1" opacity="0.95"/>
</g>
<g clip-path="url(#c12)">
<rect x="214.06" y="289.8" width="48.9" height="46.8" fill="#3abd44"/>
<rect x="214.06" y="289.8" width="48.9" height="46.8" fill="#000" filter="url(#tex)" opacity="0.7"/>
<path d="M213.06,288.8 L223.06,288.8 L216.06,297.8 L213.06,300.8 Z" fill="#1a7a2a" opacity="0.85" filter="url(#b1)"/>
<path d="M223.06,288.8 L264.0,288.8 L264.0,295.8 L216.06,297.8 Z" fill="#48c850" opacity="0.5" filter="url(#b3)"/>
<ellipse cx="244.06" cy="306.8" rx="18" ry="4" fill="#2a9e38" opacity="0.55" filter="url(#b2)" transform="rotate(0 244.06 306.8)"/>
<ellipse cx="226.06" cy="315.8" rx="10" ry="8" fill="#46c44c" opacity="0.4" filter="url(#b2)" transform="rotate(0 226.06 315.8)"/>
<path d="M213.0,323.3 L219.3,328.5 L222.4,329.0 L241.1,319.2 L251.5,315.0 L264.0,308.0 L264.0,337.65 L213.06,337.65 Z" fill="#050805" filter="url(#b1)"/>
<path d="M213.0,323.3 L219.3,328.5 L222.4,329.0 L241.1,319.2 L251.5,315.0 L264.0,308.0" fill="none" stroke="#a6f0a0" stroke-width="1.8" opacity="0.95"/>
</g>
<g clip-path="url(#c13)">
<rect x="58.55" y="365.85" width="49.3" height="45.6" fill="#26aa46"/>
<ellipse cx="88" cy="400.5" rx="22" ry="1.6" fill="#178a3c" opacity="0.6" filter="url(#b3)" transform="rotate(0 88 400.5)"/>
<path d="M66.00,412.00 C66.23,410.87 66.40,406.43 67.40,405.20 C68.40,403.97 69.07,404.60 72.00,404.60 C74.93,404.60 80.67,404.92 85.00,405.20 C89.33,405.48 94.50,405.83 98.00,406.30 C101.50,406.77 104.00,407.38 106.00,408.00 C108.00,408.62 109.33,409.67 110.00,410.00 L110,412 Z" fill="url(#gdE11)" filter="url(#b3)"/>
<ellipse cx="94" cy="410.8" rx="12" ry="1.6" fill="#000" opacity="0.7" filter="url(#b3)" transform="rotate(0 94 410.8)"/>
<ellipse cx="62" cy="400" rx="3" ry="6" fill="#5fa63c" opacity="0.4" filter="url(#b2)" transform="rotate(0 62 400)"/>
</g>
<g clip-path="url(#c14)">
<rect x="110.66" y="365.85" width="49.2" height="45.6" fill="#26aa46"/>
<ellipse cx="135" cy="390" rx="20" ry="6" fill="#1b9444" opacity="0.5" filter="url(#b2)" transform="rotate(0 135 390)"/>
<path d="M115,399.6 C130,399.2 145,399.8 160,400.6" fill="none" stroke="#3cc060" stroke-width="1" opacity="0.7"/>
<path d="M114.00,412.00 C114.22,410.25 113.47,403.23 115.30,401.50 C117.13,399.77 120.88,401.48 125.00,401.60 C129.12,401.72 134.00,402.07 140.00,402.20 C146.00,402.33 157.50,402.37 161.00,402.40 L161,412 Z" fill="url(#gdE11)" filter="url(#b3)"/>
<ellipse cx="146" cy="408.5" rx="15" ry="3.5" fill="#000" opacity="0.95" filter="url(#b3)" transform="rotate(0 146 408.5)"/>
<ellipse cx="112" cy="409" rx="4" ry="4" fill="#1a8c40" opacity="0.9" filter="url(#b3)" transform="rotate(0 112 409)"/>
</g>
<g clip-path="url(#c15)">
<rect x="162.1" y="365.85" width="47.8" height="45.6" fill="#28a944"/>
<ellipse cx="172" cy="392" rx="8" ry="14" fill="#177f34" opacity="0.55" filter="url(#b2)" transform="rotate(0 172 392)"/>
<ellipse cx="200" cy="372" rx="10" ry="5" fill="#3cb84c" opacity="0.5" filter="url(#b2)" transform="rotate(0 200 372)"/>
<path d="M165,411 C170,397 180,388 190,389 C200,391 206,402 208,411" fill="none" stroke="#62d46a" stroke-width="3" opacity="0.55" filter="url(#b3)"/>
<path d="M186,384 C194,388 201,395 207,404" fill="none" stroke="#7ade6e" stroke-width="3" opacity="0.5" filter="url(#b3)"/>
<path d="M168,412 C174,406 180,400 186.5,399.5 C192,400 196,406 200,412 Z" fill="#030603" filter="url(#b3)"/>
<path d="M174,412 C178,406 182,402 186.5,401.5 C191,402 194,406 196,412 Z" fill="#000" filter="url(#b1)"/>
<path d="M162.10,374.40 C163.30,374.32 166.70,373.73 169.30,373.90 C171.90,374.07 174.58,373.93 177.70,375.40 C180.82,376.87 184.90,380.45 188.00,382.70 C191.10,384.95 193.87,386.82 196.30,388.90 C198.73,390.98 200.52,392.95 202.60,395.20 C204.68,397.45 207.77,401.20 208.80,402.40" fill="none" stroke="#fff" stroke-width="2" stroke-dasharray="3.8 2.4" stroke-dashoffset="0"/>
<line x1="162.6" y1="411" x2="186.0" y2="386.95000000000005" stroke="#fff" stroke-width="1.8"/>
<path d="M184.4,385.3 L189.1,383.7 L187.6,388.6 Z" fill="#fff"/>
</g>
<g clip-path="url(#c16)">
<rect x="213.06" y="365.85" width="49.9" height="45.6" fill="#1f9240"/>
<path d="M212,372 C225,372 240,376 250,386 C256,394 258,402 260,412 L212,412 Z" fill="#0e4a1e" opacity="0.75" filter="url(#b2)"/>
<path d="M219,376 L220,398 M225,375 L226,394 M231,377 L232,392" fill="none" stroke="#3aa84e" stroke-width="2.5" opacity="0.35" filter="url(#b3)"/>
<ellipse cx="250" cy="369" rx="14" ry="3" fill="#2aa651" opacity="0.6" filter="url(#b2)" transform="rotate(0 250 369)"/>
<path d="M219,411 C223,401 230,395 238,395 C246,395 251,402 254,411" fill="none" stroke="#4cc466" stroke-width="2.6" opacity="0.6" filter="url(#b3)"/>
<path d="M226,412 C229,406 233,402.5 238,402.5 C243,402.5 247,406 250,412 Z" fill="#030603" filter="url(#b3)"/>
<path d="M212.90,369.20 C214.83,369.45 220.83,369.75 224.50,370.70 C228.17,371.65 231.78,373.42 234.90,374.90 C238.02,376.38 240.95,377.95 243.20,379.60 C245.45,381.25 246.67,382.55 248.40,384.80 C250.13,387.05 251.35,389.12 253.60,393.10 C255.85,397.08 260.52,406.10 261.90,408.70" fill="none" stroke="#fff" stroke-width="2" stroke-dasharray="3.8 2.4" stroke-dashoffset="0"/>
<line x1="213.3" y1="411" x2="240.35" y2="383.5" stroke="#fff" stroke-width="1.8"/>
<path d="M238.5,381.7 L243.2,380.1 L242.2,385.3 Z" fill="#fff"/>
</g>
<g clip-path="url(#c17)">
<rect x="58.55" y="413.8" width="49.3" height="45.0" fill="#25aa47"/>
<ellipse cx="83.55" cy="433.8" rx="22" ry="14" fill="#22a244" opacity="0.5" filter="url(#b2)" transform="rotate(0 83.55 433.8)"/>
<rect x="58.55" y="445" width="50" height="14" fill="url(#gE2a)"/>
<rect x="58.55" y="452.5" width="50" height="7" fill="#050805" filter="url(#b1)"/>
<path d="M90,453.8 L109,453.4" fill="none" stroke="#4dbb5c" stroke-width="0.7" opacity="0.6"/>
</g>
<g clip-path="url(#c18)">
<rect x="110.66" y="413.8" width="49.2" height="45.0" fill="#25aa47"/>
<ellipse cx="135.66" cy="433.8" rx="22" ry="14" fill="#22a244" opacity="0.5" filter="url(#b2)" transform="rotate(0 135.66 433.8)"/>
<rect x="110.66" y="445" width="50" height="14" fill="url(#gE2a)"/>
<rect x="110.66" y="453" width="50" height="7" fill="#050805" filter="url(#b1)"/>
<path d="M110,451.8 C125,452.5 140,452 150,451 C155,450.5 158,449.5 160,449" fill="none" stroke="#3fc050" stroke-width="1.0" opacity="0.85"/>
</g>
<g clip-path="url(#c19)">
<rect x="162.1" y="413.8" width="47.8" height="45.0" fill="#25aa47"/>
<ellipse cx="187.1" cy="433.8" rx="22" ry="14" fill="#22a244" opacity="0.5" filter="url(#b2)" transform="rotate(0 187.1 433.8)"/>
<rect x="162.1" y="446" width="50" height="5" fill="#158a3a" opacity="0.7" filter="url(#b1)"/>
<rect x="162.1" y="451.5" width="50" height="8" fill="#081208" filter="url(#b1)"/>
<path d="M162,450.8 C175,451.5 195,451.6 211,450.8" fill="none" stroke="#8ee86a" stroke-width="1.0" opacity="0.95"/>
<path d="M175,457 C182,455 190,455 197,457" fill="none" stroke="#2a9a45" stroke-width="1.2" opacity="0.6"/>
</g>
<g clip-path="url(#c20)">
<rect x="213.06" y="413.8" width="49.9" height="45.0" fill="#25aa47"/>
<ellipse cx="238.06" cy="433.8" rx="22" ry="14" fill="#22a244" opacity="0.5" filter="url(#b2)" transform="rotate(0 238.06 433.8)"/>
<path d="M212,445 L264,448 L264,452 L212,449 Z" fill="#158a3a" opacity="0.7" filter="url(#b1)"/>
<path d="M212,449 L264,452 L264,460 L212,460 Z" fill="#081208" filter="url(#b1)"/>
<path d="M212.9,448.3 L263,451.5" fill="none" stroke="#8ee86a" stroke-width="1.0" opacity="0.95"/>
<path d="M240,455 L263,456" fill="none" stroke="#2a9a45" stroke-width="1.0" opacity="0.5"/>
</g>
<g clip-path="url(#c21)">
<rect x="58.55" y="461.2" width="49.3" height="45.6" fill="#1a943c"/>
<path d="M78.55,460.2 L108.85,460.2 L108.85,491.2 Z" fill="#24a446" opacity="0.7" filter="url(#b2)"/>
<path d="M57.00,493.80 C58.57,494.50 63.10,496.97 66.40,498.00 C69.70,499.03 73.52,498.88 76.80,500.00 C80.08,501.12 84.32,503.37 86.10,504.70 C87.88,506.03 87.27,507.45 87.50,508.00" fill="none" stroke="#3cc04e" stroke-width="4" opacity="0.6" filter="url(#b3)"/>
<path d="M57.0,493.8 L66.4,498.0 L76.8,500.0 L86.1,504.7 L87.5,508.0 L57,508 Z" fill="#050805" filter="url(#b1)"/>
<path d="M57.00,493.80 C58.57,494.50 63.10,496.97 66.40,498.00 C69.70,499.03 73.52,498.88 76.80,500.00 C80.08,501.12 84.32,503.37 86.10,504.70 C87.88,506.03 87.27,507.45 87.50,508.00" fill="none" stroke="#6fdc6a" stroke-width="1.2" opacity="0.8" filter="url(#b1)"/>
</g>
<g clip-path="url(#c22)">
<rect x="110.66" y="461.2" width="49.2" height="45.6" fill="#178a38"/>
<path d="M132.66,460.2 L160.85,460.2 L160.85,493.2 Z" fill="#22a244" opacity="0.85" filter="url(#b2)"/>
<path d="M109.00,498.00 C114.03,498.77 130.53,501.20 139.20,502.60 C147.87,504.00 157.37,505.77 161.00,506.40" fill="none" stroke="#3cc04e" stroke-width="5" opacity="0.55" filter="url(#b3)"/>
<path d="M109.0,498.0 L139.2,502.6 L161.0,506.4 L109.66,507.8 Z" fill="#050805" filter="url(#b1)"/>
<path d="M109.00,498.00 C114.03,498.77 130.53,501.20 139.20,502.60 C147.87,504.00 157.37,505.77 161.00,506.40" fill="none" stroke="#8eec76" stroke-width="1.8" opacity="0.95" filter="url(#b1)"/>
</g>
<g clip-path="url(#c23)">
<rect x="162.1" y="461.2" width="47.8" height="45.6" fill="#178a38"/>
<path d="M184.1,460.2 L210.9,460.2 L210.9,493.2 Z" fill="#22a244" opacity="0.85" filter="url(#b2)"/>
<path d="M161.00,498.00 C166.03,498.68 182.87,500.78 191.20,502.10 C199.53,503.42 207.70,505.27 211.00,505.90" fill="none" stroke="#3cc04e" stroke-width="5" opacity="0.55" filter="url(#b3)"/>
<path d="M161.0,498.0 L191.2,502.1 L211.0,505.9 L161.1,507.8 Z" fill="#050805" filter="url(#b1)"/>
<path d="M161.00,498.00 C166.03,498.68 182.87,500.78 191.20,502.10 C199.53,503.42 207.70,505.27 211.00,505.90" fill="none" stroke="#8eec76" stroke-width="1.8" opacity="0.95" filter="url(#b1)"/>
</g>
<g clip-path="url(#c24)">
<rect x="213.06" y="461.2" width="49.9" height="45.6" fill="#178a38"/>
<path d="M235.06,460.2 L264.0,460.2 L264.0,493.2 Z" fill="#22a244" opacity="0.85" filter="url(#b2)"/>
<path d="M212.00,501.00 C216.17,501.45 231.45,502.67 237.00,503.70 C242.55,504.73 240.80,506.48 245.30,507.20 C249.80,507.92 260.88,507.87 264.00,508.00" fill="none" stroke="#3cc04e" stroke-width="5" opacity="0.55" filter="url(#b3)"/>
<path d="M212.0,501.0 L237.0,503.7 L245.3,507.2 L264.0,508.0 L212.06,507.8 Z" fill="#050805" filter="url(#b1)"/>
<path d="M212.00,501.00 C216.17,501.45 231.45,502.67 237.00,503.70 C242.55,504.73 240.80,506.48 245.30,507.20 C249.80,507.92 260.88,507.87 264.00,508.00" fill="none" stroke="#8eec76" stroke-width="1.8" opacity="0.95" filter="url(#b1)"/>
</g>
<text x="86.3" y="186.3" font-size="8.0" text-anchor="middle" textLength="4.2" lengthAdjust="spacingAndGlyphs" fill="#222" stroke="#222" stroke-width="0.18">0</text>
<text x="136.7" y="186.3" font-size="8.0" text-anchor="middle" textLength="8.6" lengthAdjust="spacingAndGlyphs" fill="#222" stroke="#222" stroke-width="0.18">6h</text>
<text x="188.4" y="186.3" font-size="8.0" text-anchor="middle" textLength="13.2" lengthAdjust="spacingAndGlyphs" fill="#222" stroke="#222" stroke-width="0.18">24h</text>
<text x="236.5" y="186.3" font-size="8.0" text-anchor="middle" textLength="13.2" lengthAdjust="spacingAndGlyphs" fill="#222" stroke="#222" stroke-width="0.18">48h</text>
<text x="81.4" y="362.1" font-size="8.0" text-anchor="middle" textLength="4.2" lengthAdjust="spacingAndGlyphs" fill="#222" stroke="#222" stroke-width="0.18">0</text>
<text x="131.5" y="362.1" font-size="8.0" text-anchor="middle" textLength="8.6" lengthAdjust="spacingAndGlyphs" fill="#222" stroke="#222" stroke-width="0.18">6h</text>
<text x="183.2" y="362.1" font-size="8.0" text-anchor="middle" textLength="13.2" lengthAdjust="spacingAndGlyphs" fill="#222" stroke="#222" stroke-width="0.18">24h</text>
<text x="231.6" y="362.1" font-size="8.0" text-anchor="middle" textLength="13.2" lengthAdjust="spacingAndGlyphs" fill="#222" stroke="#222" stroke-width="0.18">48h</text>
<text x="54.2" y="217.6" font-size="8.2" text-anchor="end" textLength="47.4" lengthAdjust="spacingAndGlyphs" fill="#222" stroke="#222" stroke-width="0.18">uPA-LPS-MV</text>
<text x="54.2" y="268.3" font-size="8.2" text-anchor="end" textLength="29.6" lengthAdjust="spacingAndGlyphs" fill="#222" stroke="#222" stroke-width="0.18">LPS-MV</text>
<text x="54.2" y="317.3" font-size="8.2" text-anchor="end" textLength="15.6" lengthAdjust="spacingAndGlyphs" fill="#222" stroke="#222" stroke-width="0.18">SPN</text>
<text x="54.9" y="391.9" font-size="8.4" text-anchor="end" textLength="33.4" lengthAdjust="spacingAndGlyphs" fill="#222" stroke="#222" stroke-width="0.18">H-SS-MV</text>
<text x="54.9" y="435.3" font-size="8.4" text-anchor="end" textLength="32" lengthAdjust="spacingAndGlyphs" fill="#222" stroke="#222" stroke-width="0.18">L-SS-MV</text>
<text x="54.9" y="484.8" font-size="8.4" text-anchor="end" textLength="16.3" lengthAdjust="spacingAndGlyphs" fill="#222" stroke="#222" stroke-width="0.18">SPN</text>
<rect x="73.1" y="191.7" width="26" height="1.5" fill="#050505"/>
<text x="71.1" y="201.5" font-size="7.8" text-anchor="start" textLength="30" lengthAdjust="spacingAndGlyphs" fill="#06180a" stroke="#06180a" stroke-width="0.18">1000 µm</text>
<rect x="61.2" y="367.5" width="23.7" height="2.9" fill="#050505"/>
<text x="60" y="378.7" font-size="7.9" text-anchor="start" textLength="26.3" lengthAdjust="spacingAndGlyphs" fill="#06180a" stroke="#06180a" stroke-width="0.18">500 µm</text>
</svg>
</body></html>
